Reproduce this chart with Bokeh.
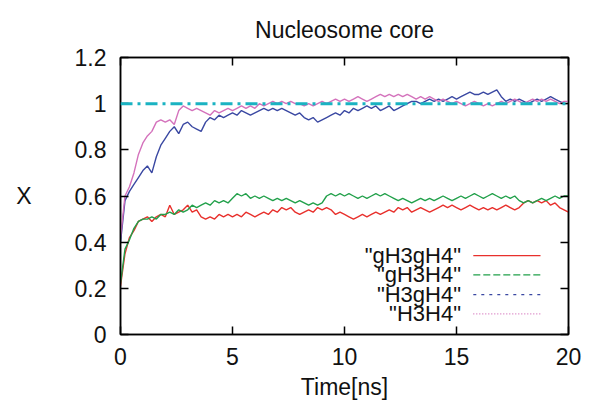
from bokeh.plotting import figure
from bokeh.models import Range1d, LinearAxis, FixedTicker, Span, Label
from bokeh.embed import file_html
from bokeh.resources import INLINE

TITLE = "Nucleosome core"
X_LABEL = "Time[ns]"
Y_LABEL = "X"
X_TICKS = [0, 5, 10, 15, 20]
Y_TICKS = [0, 0.2, 0.4, 0.6, 0.8, 1.0, 1.2]
Y_TICK_LABELS = ["0", "0.2", "0.4", "0.6", "0.8", "1", "1.2"]
SERIES_NAMES = ['"gH3gH4"', '"gH3H4"', '"H3gH4"', '"H3H4"']
REF_LEVEL = 1.0

T = [0.0, 0.2, 0.4, 0.6, 0.8, 1.0, 1.2, 1.4, 1.6, 1.8,
     2.0, 2.2, 2.4, 2.6, 2.8, 3.0, 3.2, 3.4, 3.6, 3.8,
     4.0, 4.2, 4.4, 4.6, 4.8, 5.0, 5.2, 5.4, 5.6, 5.8,
     6.0, 6.2, 6.4, 6.6, 6.8, 7.0, 7.2, 7.4, 7.6, 7.8,
     8.0, 8.2, 8.4, 8.6, 8.8, 9.0, 9.2, 9.4, 9.6, 9.8,
     10.0, 10.2, 10.4, 10.6, 10.8, 11.0, 11.2, 11.4, 11.6, 11.8,
     12.0, 12.2, 12.4, 12.6, 12.8, 13.0, 13.2, 13.4, 13.6, 13.8,
     14.0, 14.2, 14.4, 14.6, 14.8, 15.0, 15.2, 15.4, 15.6, 15.8,
     16.0, 16.2, 16.4, 16.6, 16.8, 17.0, 17.2, 17.4, 17.6, 17.8,
     18.0, 18.2, 18.4, 18.6, 18.8, 19.0, 19.2, 19.4, 19.6, 19.8, 20.0]

GH3GH4 = [0.21, 0.35, 0.42, 0.45, 0.49, 0.50, 0.51, 0.49, 0.51, 0.52,
          0.51, 0.56, 0.52, 0.53, 0.54, 0.56, 0.53, 0.54, 0.51, 0.50,
          0.51, 0.50, 0.52, 0.51, 0.52, 0.51, 0.52, 0.51, 0.53, 0.52,
          0.51, 0.52, 0.53, 0.52, 0.54, 0.53, 0.55, 0.54, 0.55, 0.53,
          0.52, 0.53, 0.54, 0.53, 0.55, 0.54, 0.55, 0.54, 0.52, 0.53,
          0.52, 0.51, 0.50, 0.51, 0.52, 0.51, 0.52, 0.53, 0.52, 0.53,
          0.54, 0.53, 0.55, 0.54, 0.55, 0.53, 0.54, 0.55, 0.54, 0.53,
          0.54, 0.55, 0.56, 0.55, 0.56, 0.55, 0.54, 0.55, 0.56, 0.55,
          0.54, 0.55, 0.54, 0.55, 0.54, 0.55, 0.56, 0.55, 0.54, 0.55,
          0.57, 0.58, 0.57, 0.58, 0.57, 0.58, 0.56, 0.57, 0.55, 0.54, 0.53]

GH3H4 = [0.22, 0.37, 0.41, 0.46, 0.49, 0.50, 0.50, 0.51, 0.50, 0.52,
         0.52, 0.53, 0.52, 0.54, 0.53, 0.54, 0.56, 0.55, 0.56, 0.57,
         0.56, 0.58, 0.57, 0.58, 0.57, 0.59, 0.61, 0.60, 0.61, 0.59,
         0.60, 0.59, 0.60, 0.59, 0.58, 0.59, 0.58, 0.59, 0.58, 0.57,
         0.58, 0.57, 0.56, 0.57, 0.56, 0.57, 0.60, 0.61, 0.60, 0.61,
         0.60, 0.61, 0.60, 0.59, 0.60, 0.59, 0.60, 0.61, 0.60, 0.61,
         0.60, 0.59, 0.58, 0.59, 0.58, 0.57, 0.58, 0.59, 0.58, 0.59,
         0.58, 0.59, 0.60, 0.59, 0.58, 0.59, 0.60, 0.59, 0.60, 0.61,
         0.60, 0.59, 0.60, 0.61, 0.60, 0.59, 0.60, 0.59, 0.60, 0.58,
         0.57, 0.58, 0.57, 0.58, 0.59, 0.58, 0.59, 0.60, 0.59, 0.60, 0.60]

H3GH4 = [0.40, 0.58, 0.62, 0.65, 0.68, 0.71, 0.73, 0.70, 0.77, 0.82,
         0.85, 0.88, 0.90, 0.87, 0.91, 0.92, 0.90, 0.89, 0.88, 0.92,
         0.94, 0.93, 0.95, 0.94, 0.95, 0.96, 0.95, 0.97, 0.96, 0.95,
         0.96, 0.97, 0.98, 0.97, 0.98, 0.97, 0.98, 0.97, 0.96, 0.95,
         0.96, 0.94, 0.93, 0.94, 0.92, 0.93, 0.94, 0.95, 0.96, 0.95,
         0.97, 0.96, 0.98, 0.97, 0.98, 0.99, 0.98, 0.99, 0.97, 0.98,
         0.99, 0.97, 0.98, 0.99, 1.00, 1.01, 1.01, 1.00, 1.01, 1.02,
         1.01, 1.02, 1.01, 1.02, 1.03, 1.02, 1.03, 1.04, 1.05, 1.04,
         1.04, 1.05, 1.04, 1.05, 1.06, 1.03, 1.01, 1.02, 1.01, 1.02,
         1.01, 1.00, 1.01, 1.02, 1.01, 1.02, 1.03, 1.02, 1.01, 1.00, 1.00]

H3H4 = [0.42, 0.60, 0.64, 0.70, 0.78, 0.83, 0.86, 0.88, 0.92, 0.93,
        0.92, 0.93, 0.91, 0.97, 0.99, 0.98, 0.97, 0.98, 0.97, 0.96,
        0.95, 0.97, 0.96, 0.97, 0.98, 0.97, 0.98, 0.99, 0.98, 0.99,
        0.98, 1.00, 0.99, 1.00, 1.01, 1.00, 1.01, 1.00, 1.01, 1.00,
        1.00, 0.99, 1.00, 0.99, 1.00, 1.01, 1.00, 1.01, 1.02, 1.01,
        1.02, 1.01, 1.02, 1.03, 1.02, 1.01, 1.02, 1.03, 1.04, 1.03,
        1.04, 1.03, 1.04, 1.03, 1.04, 1.03, 1.02, 1.03, 1.02, 1.03,
        1.02, 1.01, 1.02, 1.01, 1.00, 1.01, 1.00, 0.99, 1.00, 1.01,
        1.00, 0.99, 1.00, 0.99, 1.00, 1.01, 1.00, 1.01, 1.02, 1.01,
        1.00, 1.01, 1.02, 1.01, 1.02, 1.01, 1.02, 1.01, 1.00, 1.01, 1.01]

COLORS = ["#e8302c", "#21a04a", "#3a48a2", "#d472bc"]
LEG_DASH = ["solid", "7 3", "3 5", "1 2"]
FONT = "Liberation Sans"

p = figure(width=596, height=405, output_backend="svg", toolbar_location=None,
           x_range=Range1d(0, 20), y_range=Range1d(0, 1.2),
           min_border_left=120, min_border_right=28, min_border_top=57, min_border_bottom=71)
p.background_fill_color = "white"
p.border_fill_color = "white"
p.outline_line_color = "black"
p.outline_line_width = 1.5
p.xgrid.visible = False
p.ygrid.visible = False

p.title.text = TITLE
p.title.align = "center"
p.title.vertical_align = "top"
p.title.text_font = FONT
p.title.text_font_size = "23px"
p.title.text_font_style = "normal"
p.title.text_color = "#111111"
p.title.standoff = 25

def style_axis(ax, ticks, show_labels):
    ax.ticker = FixedTicker(ticks=ticks)
    ax.major_tick_in = 8
    ax.major_tick_out = 0
    ax.minor_tick_line_color = None
    ax.axis_line_color = "black"
    ax.axis_line_width = 1.5
    ax.major_tick_line_color = "black"
    ax.major_tick_line_width = 1.5
    if show_labels:
        ax.major_label_text_font = FONT
        ax.major_label_text_font_size = "23px"
        ax.major_label_text_color = "#111111"
    else:
        ax.major_label_text_font_size = "0px"
        ax.major_label_text_color = None
        ax.major_label_standoff = 0

xa = p.xaxis[0]
style_axis(xa, X_TICKS, True)
xa.major_label_standoff = 13
xa.axis_label = X_LABEL
xa.axis_label_text_font = FONT
xa.axis_label_text_font_size = "23px"
xa.axis_label_text_font_style = "normal"
xa.axis_label_text_color = "#111111"
xa.axis_label_standoff = 6

ya = p.yaxis[0]
style_axis(ya, Y_TICKS, True)
ya.major_label_standoff = 14
ya.major_label_overrides = {t: s for t, s in zip(Y_TICKS, Y_TICK_LABELS)}
ya.axis_label = Y_LABEL
ya.axis_label_text_font = FONT
ya.axis_label_text_font_size = "23px"
ya.axis_label_text_font_style = "normal"
ya.axis_label_text_color = "#111111"
ya.axis_label_standoff = 40
try:
    ya.axis_label_orientation = "horizontal"
except Exception:
    pass

top = LinearAxis()
style_axis(top, X_TICKS, False)
p.add_layout(top, "above")
right = LinearAxis()
style_axis(right, Y_TICKS, False)
p.add_layout(right, "right")

series = [GH3GH4, GH3H4, H3GH4, H3H4]
for vals, col in zip(series, COLORS):
    p.line(T, vals, line_color=col, line_width=1.4)

p.add_layout(Span(location=REF_LEVEL, dimension="width", line_color="#1ab3c2",
                  line_width=3, line_dash="12 5 3 5"))

# gnuplot-style key: right-aligned text then line sample
LEG_ROWS = [0.342, 0.258, 0.173, 0.089]
for name, col, dash, yy in zip(SERIES_NAMES, COLORS, LEG_DASH, LEG_ROWS):
    p.add_layout(Label(x=15.2, y=yy, text=name, text_align="right", text_baseline="middle",
                       text_font=FONT, text_font_size="22px", text_color="#111111"))
    p.segment(x0=[15.75], y0=[yy], x1=[18.75], y1=[yy], line_color=col,
              line_width=1.2, line_dash=dash)

open("out.html", "w").write(file_html(p, INLINE))
